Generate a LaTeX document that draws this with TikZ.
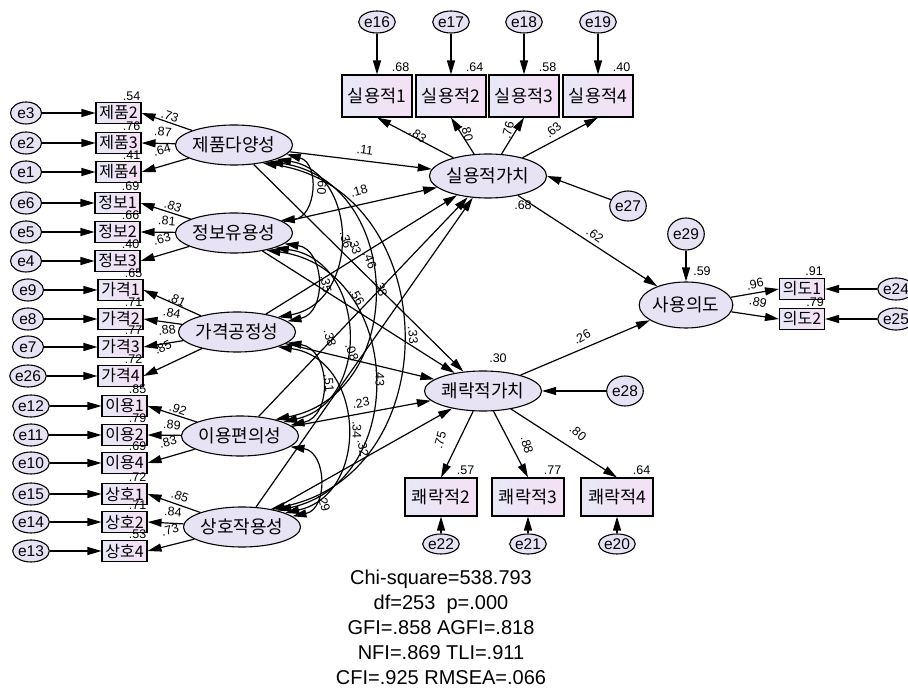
\documentclass[tikz,border=0pt]{standalone}
\usepackage{fontspec}
\setmainfont{Liberation Sans}
\newfontfamily\krfont{Noto Sans CJK KR}
\usetikzlibrary{arrows.meta,shapes.geometric}

\definecolor{latentfill}{RGB}{232,226,245}
\definecolor{boxleft}{RGB}{232,232,247}
\definecolor{boxright}{RGB}{245,224,246}

\tikzset{
  amos/.tip={Triangle[length=14pt,width=8pt]},
  latent/.style={draw,line width=1.1pt,ellipse,fill=latentfill,minimum width=90pt,minimum height=40pt,inner sep=0pt,font=\krfont\fontsize{18}{18}\selectfont},
  indbox/.style={draw,line width=1.1pt,rectangle,left color=boxleft,right color=boxright,minimum width=45pt,minimum height=21pt,inner sep=0pt,font=\krfont\fontsize{16}{16}\selectfont},
  bigitem/.style={indbox,minimum width=70pt,minimum height=42pt,font=\krfont\fontsize{17.5}{17.5}\selectfont},
  errcirc/.style={draw,line width=1.1pt,ellipse,fill=latentfill,minimum width=31pt,minimum height=22pt,inner sep=0pt,font=\fontsize{15.5}{15.5}\selectfont},
  arr/.style={line width=1.2pt,-{amos}},
  cov/.style={line width=1.2pt,{amos}-{amos},bend right=80,looseness=1.35},
  coef/.style={font=\fontsize{12.5}{12.5}\selectfont,inner sep=1pt},
}

\begin{document}
\begin{tikzpicture}[x=1pt,y=1pt,yscale=-1]
\useasboundingbox (0,0) rectangle (908,692);

% Latent variables
\node[latent] (jepum) at (234,145) {제품다양성};
\node[latent] (jeongbo) at (234,233) {정보유용성};
\node[latent] (gagyeok) at (237,332) {가격공정성};
\node[latent] (iyong) at (240,436) {이용편의성};
\node[latent] (sangho) at (242,527) {상호작용성};
\node[latent,minimum width=92pt,minimum height=44pt] (silyong) at (488,176) {실용적가치};
\node[latent] (kwerak) at (483,391) {쾌락적가치};
\node[latent,minimum width=92pt,minimum height=46pt] (intent) at (686,305) {사용의도};

% Observed variables, left
\node[indbox] (jp2) at (118.5,113) {제품2};
\node[indbox] (jp3) at (118.5,143) {제품3};
\node[indbox] (jp4) at (118.5,172) {제품4};
\node[indbox] (jb1) at (117.5,203) {정보1};
\node[indbox] (jb2) at (117.5,232) {정보2};
\node[indbox] (jb3) at (117.5,261) {정보3};
\node[indbox] (gg1) at (120.5,290) {가격1};
\node[indbox] (gg2) at (120.5,319) {가격2};
\node[indbox] (gg3) at (120.5,347) {가격3};
\node[indbox] (gg4) at (120.5,376) {가격4};
\node[indbox] (iy1) at (124.5,406) {이용1};
\node[indbox] (iy2) at (124.5,435) {이용2};
\node[indbox] (iy4) at (124.5,463) {이용4};
\node[indbox] (sh1) at (124.5,494) {상호1};
\node[indbox] (sh2) at (124.5,522) {상호2};
\node[indbox] (sh4) at (124.5,551) {상호4};

% Error terms, left
\node[errcirc] (e3) at (26,113) {e3};
\node[errcirc] (e2) at (26,143) {e2};
\node[errcirc] (e1) at (26,172) {e1};
\node[errcirc] (e6) at (26,203) {e6};
\node[errcirc] (e5) at (26,232) {e5};
\node[errcirc] (e4) at (26,261) {e4};
\node[errcirc] (e9) at (28,290) {e9};
\node[errcirc] (e8) at (28,319) {e8};
\node[errcirc] (e7) at (28,347) {e7};
\node[errcirc] (e26) at (28,376) {e26};
\node[errcirc] (e12) at (31,406) {e12};
\node[errcirc] (e11) at (31,435) {e11};
\node[errcirc] (e10) at (31,463) {e10};
\node[errcirc] (e15) at (31,494) {e15};
\node[errcirc] (e14) at (31,522) {e14};
\node[errcirc] (e13) at (31,551) {e13};

% Observed variables, top and bottom
\node[bigitem] (sy1) at (377,96) {실용적1};
\node[bigitem] (sy2) at (451,96) {실용적2};
\node[bigitem] (sy3) at (524,96) {실용적3};
\node[bigitem] (sy4) at (598,96) {실용적4};
\node[errcirc] (e16) at (377,22) {e16};
\node[errcirc] (e17) at (451,22) {e17};
\node[errcirc] (e18) at (524,22) {e18};
\node[errcirc] (e19) at (598,22) {e19};
\node[bigitem,minimum width=72pt,minimum height=38pt] (kr2) at (441,497) {쾌락적2};
\node[bigitem,minimum width=72pt,minimum height=38pt] (kr3) at (528,497) {쾌락적3};
\node[bigitem,minimum width=72pt,minimum height=38pt] (kr4) at (617,497) {쾌락적4};
\node[errcirc,minimum height=20pt] (e22) at (441,544) {e22};
\node[errcirc,minimum height=20pt] (e21) at (528,544) {e21};
\node[errcirc,minimum height=20pt] (e20) at (617,544) {e20};

% Outcome side
\node[indbox] (id1) at (802,289) {의도1};
\node[indbox] (id2) at (802,319) {의도2};
\node[errcirc,minimum width=32pt] (e24) at (896,289) {e24};
\node[errcirc,minimum width=32pt] (e25) at (896,319) {e25};
\node[errcirc,minimum width=33pt,minimum height=30pt] (e27) at (628,206) {e27};
\node[errcirc,minimum width=33pt,minimum height=30pt] (e28) at (625,391) {e28};
\node[errcirc,minimum width=33pt,minimum height=32pt] (e29) at (686,234) {e29};

% Error arrows
\draw[arr] (e3) -- (jp2);
\draw[arr] (e2) -- (jp3);
\draw[arr] (e1) -- (jp4);
\draw[arr] (e6) -- (jb1);
\draw[arr] (e5) -- (jb2);
\draw[arr] (e4) -- (jb3);
\draw[arr] (e9) -- (gg1);
\draw[arr] (e8) -- (gg2);
\draw[arr] (e7) -- (gg3);
\draw[arr] (e26) -- (gg4);
\draw[arr] (e12) -- (iy1);
\draw[arr] (e11) -- (iy2);
\draw[arr] (e10) -- (iy4);
\draw[arr] (e15) -- (sh1);
\draw[arr] (e14) -- (sh2);
\draw[arr] (e13) -- (sh4);
\draw[arr] (e16) -- (sy1);
\draw[arr] (e17) -- (sy2);
\draw[arr] (e18) -- (sy3);
\draw[arr] (e19) -- (sy4);
\draw[arr] (e22) -- (kr2);
\draw[arr] (e21) -- (kr3);
\draw[arr] (e20) -- (kr4);
\draw[arr] (e24) -- (id1);
\draw[arr] (e25) -- (id2);
\draw[arr] (e27) -- (silyong.east);
\draw[arr] (e28) -- (kwerak);
\draw[arr] (e29) -- (intent);

% Loadings
\draw[arr] (jepum) -- (jp2.east);
\draw[arr] (jepum) -- (jp3.east);
\draw[arr] (jepum) -- (jp4.east);
\draw[arr] (jeongbo) -- (jb1.east);
\draw[arr] (jeongbo) -- (jb2.east);
\draw[arr] (jeongbo) -- (jb3.east);
\draw[arr] (gagyeok) -- (gg1.east);
\draw[arr] (gagyeok) -- (gg2.east);
\draw[arr] (gagyeok) -- (gg3.east);
\draw[arr] (gagyeok) -- (gg4.east);
\draw[arr] (iyong) -- (iy1.east);
\draw[arr] (iyong) -- (iy2.east);
\draw[arr] (iyong) -- (iy4.east);
\draw[arr] (sangho) -- (sh1.east);
\draw[arr] (sangho) -- (sh2.east);
\draw[arr] (sangho) -- (sh4.east);
\draw[arr] (silyong) -- (sy1.south);
\draw[arr] (silyong) -- (sy2.south);
\draw[arr] (silyong) -- (sy3.south);
\draw[arr] (silyong) -- (sy4.south);
\draw[arr] (kwerak) -- (kr2.north);
\draw[arr] (kwerak) -- (kr3.north);
\draw[arr] (kwerak) -- (kr4.north);
\draw[arr] (intent) -- (id1.west);
\draw[arr] (intent) -- (id2.west);

% Structural paths
\draw[arr] (jepum) -- (silyong);
\draw[arr] (jeongbo) -- (silyong);
\draw[arr] (gagyeok) -- (silyong);
\draw[arr] (iyong) -- (silyong);
\draw[arr] (sangho) -- (silyong);
\draw[arr] (jepum) -- (kwerak);
\draw[arr] (jeongbo) -- (kwerak);
\draw[arr] (gagyeok) -- (kwerak);
\draw[arr] (iyong) -- (kwerak);
\draw[arr] (sangho) -- (kwerak);
\draw[arr] (silyong) -- (intent);
\draw[arr] (kwerak) -- (intent);

% Covariances
\draw[cov] (jepum.-10) to (jeongbo.15);
\draw[cov] (jepum.-18) to (gagyeok.20);
\draw[cov] (jepum.-25) to (iyong.25);
\draw[cov] (jepum.-32) to (sangho.32);
\draw[cov] (jeongbo.-12) to (gagyeok.12);
\draw[cov] (jeongbo.-20) to (iyong.18);
\draw[cov] (jeongbo.-28) to (sangho.25);
\draw[cov] (gagyeok.-12) to (iyong.12);
\draw[cov] (gagyeok.-20) to (sangho.18);
\draw[cov] (iyong.-12) to (sangho.12);

% Squared multiple correlations
\node[coef,anchor=south east] at (jp2.north east) {.54};
\node[coef,anchor=south east] at (jp3.north east) {.76};
\node[coef,anchor=south east] at (jp4.north east) {.41};
\node[coef,anchor=south east] at (jb1.north east) {.69};
\node[coef,anchor=south east] at (jb2.north east) {.66};
\node[coef,anchor=south east] at (jb3.north east) {.40};
\node[coef,anchor=south east] at (gg1.north east) {.65};
\node[coef,anchor=south east] at (gg2.north east) {.71};
\node[coef,anchor=south east] at (gg3.north east) {.77};
\node[coef,anchor=south east] at (gg4.north east) {.72};
\node[coef,anchor=south east] at (iy1.north east) {.85};
\node[coef,anchor=south east] at (iy2.north east) {.79};
\node[coef,anchor=south east] at (iy4.north east) {.69};
\node[coef,anchor=south east] at (sh1.north east) {.72};
\node[coef,anchor=south east] at (sh2.north east) {.71};
\node[coef,anchor=south east] at (sh4.north east) {.53};
\node[coef,anchor=south east,inner sep=3pt] at (sy1.north east) {.68};
\node[coef,anchor=south east,inner sep=3pt] at (sy2.north east) {.64};
\node[coef,anchor=south east,inner sep=3pt] at (sy3.north east) {.58};
\node[coef,anchor=south east,inner sep=3pt] at (sy4.north east) {.40};
\node[coef,anchor=south east,inner sep=3pt] at (kr2.north east) {.57};
\node[coef,anchor=south east,inner sep=3pt] at (kr3.north east) {.77};
\node[coef,anchor=south east,inner sep=3pt] at (kr4.north east) {.64};
\node[coef,anchor=south east,inner sep=2pt] at (id1.north east) {.91};
\node[coef,anchor=south east] at (id2.north east) {.79};
\node[coef] at (523,205) {.68};
\node[coef] at (498,358) {.30};
\node[coef] at (702,271) {.59};

% Text Node: loadings, left
\node[coef,rotate=-20] at (170,116) {.73};
\node[coef,rotate=-5] at (163,132) {.87};
\node[coef,rotate=15] at (162,150) {.64};
\node[coef,rotate=-20] at (173,206) {.83};
\node[coef,rotate=-5] at (167,221) {.81};
\node[coef,rotate=15] at (162,239) {.63};
\node[coef,rotate=-25] at (177,300) {.81};
\node[coef,rotate=-10] at (172,313) {.84};
\node[coef,rotate=8] at (167,330) {.88};
\node[coef,rotate=25] at (163,347) {.85};
\node[coef,rotate=-20] at (178,409) {.92};
\node[coef,rotate=-5] at (172,425) {.89};
\node[coef,rotate=15] at (168,442) {.83};
\node[coef,rotate=-20] at (180,496) {.85};
\node[coef,rotate=-5] at (173,512) {.84};
\node[coef,rotate=15] at (170,530) {.73};

% Text Node: loadings, top, bottom and right
\node[coef,rotate=-37] at (418,135) {.83};
\node[coef,rotate=-76] at (467,133) {.80};
\node[coef,rotate=76] at (508,130) {.76};
\node[coef,rotate=41] at (553,130) {.63};
\node[coef,rotate=75] at (440,440) {.75};
\node[coef,rotate=-75] at (527,445) {.88};
\node[coef,rotate=-40] at (578,433) {.80};
\node[coef,rotate=13] at (755,284) {.96};
\node[coef,rotate=-12] at (758,302) {.89};
\node[coef,rotate=-36] at (595,235) {.62};
\node[coef,rotate=28] at (582,337) {.26};

% Text Node: paths and covariances
\node[coef,rotate=-7] at (365,150) {.11};
\node[coef,rotate=16] at (359,191) {.18};
\node[coef,rotate=-95] at (322,186) {.60};
\node[coef,rotate=-75] at (346,240) {.36};
\node[coef,rotate=-75] at (355,246) {.33};
\node[coef,rotate=-70] at (370,260) {.46};
\node[coef,rotate=-75] at (381,288) {.38};
\node[coef,rotate=-80] at (326,284) {.35};
\node[coef,rotate=-60] at (357,297) {.56};
\node[coef,rotate=-75] at (330,338) {.38};
\node[coef,rotate=-70] at (352,352) {.08};
\node[coef,rotate=-85] at (413,335) {.33};
\node[coef,rotate=-90] at (380,378) {.43};
\node[coef,rotate=-85] at (329,383) {.51};
\node[coef,rotate=10] at (361,403) {.23};
\node[coef,rotate=-90] at (357,430) {.34};
\node[coef,rotate=-80] at (363,448) {.32};
\node[coef,rotate=-75] at (324,503) {.29};

% Fit indices
\node[align=center,inner sep=0pt,font=\fontsize{20}{25}\selectfont] (fitstats) at (441,627)
  {Chi-square=538.793\\df=253\ \ p=.000\\GFI=.858 AGFI=.818\\NFI=.869 TLI=.911\\CFI=.925 RMSEA=.066};
\end{tikzpicture}
\end{document}
